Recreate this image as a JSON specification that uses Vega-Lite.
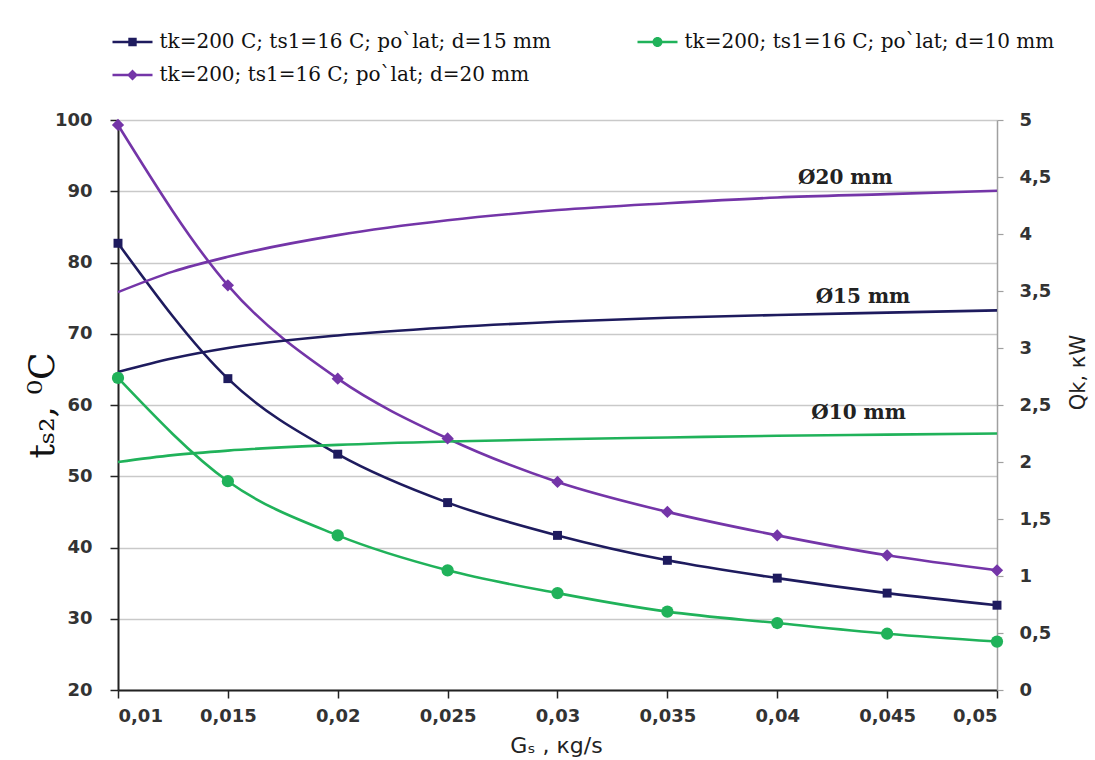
{
  "$schema": "https://vega.github.io/schema/vega-lite/v6.json",
  "width": 879,
  "height": 570,
  "autosize": {"type": "none"},
  "padding": {"left": 118, "top": 120, "right": 98, "bottom": 70},
  "background": "white",
  "datasets": {
    "ts": [
      {"Gs": 0.01, "series": "tk=200 C; ts1=16 C; po`lat; d=15 mm", "ts2": 82.7},
      {"Gs": 0.015, "series": "tk=200 C; ts1=16 C; po`lat; d=15 mm", "ts2": 63.7},
      {"Gs": 0.02, "series": "tk=200 C; ts1=16 C; po`lat; d=15 mm", "ts2": 53.1},
      {"Gs": 0.025, "series": "tk=200 C; ts1=16 C; po`lat; d=15 mm", "ts2": 46.3},
      {"Gs": 0.03, "series": "tk=200 C; ts1=16 C; po`lat; d=15 mm", "ts2": 41.7},
      {"Gs": 0.035, "series": "tk=200 C; ts1=16 C; po`lat; d=15 mm", "ts2": 38.2},
      {"Gs": 0.04, "series": "tk=200 C; ts1=16 C; po`lat; d=15 mm", "ts2": 35.7},
      {"Gs": 0.045, "series": "tk=200 C; ts1=16 C; po`lat; d=15 mm", "ts2": 33.6},
      {"Gs": 0.05, "series": "tk=200 C; ts1=16 C; po`lat; d=15 mm", "ts2": 31.9},
      {"Gs": 0.01, "series": "tk=200; ts1=16 C; po`lat; d=10 mm", "ts2": 63.8},
      {"Gs": 0.015, "series": "tk=200; ts1=16 C; po`lat; d=10 mm", "ts2": 49.3},
      {"Gs": 0.02, "series": "tk=200; ts1=16 C; po`lat; d=10 mm", "ts2": 41.7},
      {"Gs": 0.025, "series": "tk=200; ts1=16 C; po`lat; d=10 mm", "ts2": 36.8},
      {"Gs": 0.03, "series": "tk=200; ts1=16 C; po`lat; d=10 mm", "ts2": 33.6},
      {"Gs": 0.035, "series": "tk=200; ts1=16 C; po`lat; d=10 mm", "ts2": 31.0},
      {"Gs": 0.04, "series": "tk=200; ts1=16 C; po`lat; d=10 mm", "ts2": 29.4},
      {"Gs": 0.045, "series": "tk=200; ts1=16 C; po`lat; d=10 mm", "ts2": 27.9},
      {"Gs": 0.05, "series": "tk=200; ts1=16 C; po`lat; d=10 mm", "ts2": 26.8},
      {"Gs": 0.01, "series": "tk=200; ts1=16 C; po`lat; d=20 mm", "ts2": 99.3},
      {"Gs": 0.015, "series": "tk=200; ts1=16 C; po`lat; d=20 mm", "ts2": 76.8},
      {"Gs": 0.02, "series": "tk=200; ts1=16 C; po`lat; d=20 mm", "ts2": 63.7},
      {"Gs": 0.025, "series": "tk=200; ts1=16 C; po`lat; d=20 mm", "ts2": 55.3},
      {"Gs": 0.03, "series": "tk=200; ts1=16 C; po`lat; d=20 mm", "ts2": 49.2},
      {"Gs": 0.035, "series": "tk=200; ts1=16 C; po`lat; d=20 mm", "ts2": 45.0},
      {"Gs": 0.04, "series": "tk=200; ts1=16 C; po`lat; d=20 mm", "ts2": 41.7},
      {"Gs": 0.045, "series": "tk=200; ts1=16 C; po`lat; d=20 mm", "ts2": 38.9},
      {"Gs": 0.05, "series": "tk=200; ts1=16 C; po`lat; d=20 mm", "ts2": 36.8}
    ],
    "qk": [
      {"Gs": 0.01, "series": "tk=200 C; ts1=16 C; po`lat; d=15 mm", "Qk": 2.79},
      {"Gs": 0.0125, "series": "tk=200 C; ts1=16 C; po`lat; d=15 mm", "Qk": 2.91},
      {"Gs": 0.015, "series": "tk=200 C; ts1=16 C; po`lat; d=15 mm", "Qk": 3.0},
      {"Gs": 0.02, "series": "tk=200 C; ts1=16 C; po`lat; d=15 mm", "Qk": 3.11},
      {"Gs": 0.025, "series": "tk=200 C; ts1=16 C; po`lat; d=15 mm", "Qk": 3.18},
      {"Gs": 0.03, "series": "tk=200 C; ts1=16 C; po`lat; d=15 mm", "Qk": 3.23},
      {"Gs": 0.035, "series": "tk=200 C; ts1=16 C; po`lat; d=15 mm", "Qk": 3.265},
      {"Gs": 0.04, "series": "tk=200 C; ts1=16 C; po`lat; d=15 mm", "Qk": 3.29},
      {"Gs": 0.045, "series": "tk=200 C; ts1=16 C; po`lat; d=15 mm", "Qk": 3.31},
      {"Gs": 0.05, "series": "tk=200 C; ts1=16 C; po`lat; d=15 mm", "Qk": 3.33},
      {"Gs": 0.01, "series": "tk=200; ts1=16 C; po`lat; d=10 mm", "Qk": 2.0},
      {"Gs": 0.0125, "series": "tk=200; ts1=16 C; po`lat; d=10 mm", "Qk": 2.06},
      {"Gs": 0.015, "series": "tk=200; ts1=16 C; po`lat; d=10 mm", "Qk": 2.1},
      {"Gs": 0.02, "series": "tk=200; ts1=16 C; po`lat; d=10 mm", "Qk": 2.15},
      {"Gs": 0.025, "series": "tk=200; ts1=16 C; po`lat; d=10 mm", "Qk": 2.18},
      {"Gs": 0.03, "series": "tk=200; ts1=16 C; po`lat; d=10 mm", "Qk": 2.2},
      {"Gs": 0.035, "series": "tk=200; ts1=16 C; po`lat; d=10 mm", "Qk": 2.215},
      {"Gs": 0.04, "series": "tk=200; ts1=16 C; po`lat; d=10 mm", "Qk": 2.23},
      {"Gs": 0.045, "series": "tk=200; ts1=16 C; po`lat; d=10 mm", "Qk": 2.24},
      {"Gs": 0.05, "series": "tk=200; ts1=16 C; po`lat; d=10 mm", "Qk": 2.25},
      {"Gs": 0.01, "series": "tk=200; ts1=16 C; po`lat; d=20 mm", "Qk": 3.49},
      {"Gs": 0.0125, "series": "tk=200; ts1=16 C; po`lat; d=20 mm", "Qk": 3.67},
      {"Gs": 0.015, "series": "tk=200; ts1=16 C; po`lat; d=20 mm", "Qk": 3.8},
      {"Gs": 0.02, "series": "tk=200; ts1=16 C; po`lat; d=20 mm", "Qk": 3.99},
      {"Gs": 0.025, "series": "tk=200; ts1=16 C; po`lat; d=20 mm", "Qk": 4.12},
      {"Gs": 0.03, "series": "tk=200; ts1=16 C; po`lat; d=20 mm", "Qk": 4.21},
      {"Gs": 0.035, "series": "tk=200; ts1=16 C; po`lat; d=20 mm", "Qk": 4.27},
      {"Gs": 0.04, "series": "tk=200; ts1=16 C; po`lat; d=20 mm", "Qk": 4.32},
      {"Gs": 0.045, "series": "tk=200; ts1=16 C; po`lat; d=20 mm", "Qk": 4.35},
      {"Gs": 0.05, "series": "tk=200; ts1=16 C; po`lat; d=20 mm", "Qk": 4.38}
    ],
    "notes": [
      {"Gs": 0.0431, "Qk": 4.49, "label": "Ø20 mm"},
      {"Gs": 0.0439, "Qk": 3.45, "label": "Ø15 mm"},
      {"Gs": 0.0437, "Qk": 2.43, "label": "Ø10 mm"}
    ]
  },
  "config": {
    "view": {"stroke": null},
    "axis": {
      "labelFont": "DejaVu Sans",
      "labelFontWeight": "bold",
      "labelFontSize": 18,
      "labelColor": "#333333"
    },
    "legend": {
      "orient": "none",
      "direction": "horizontal",
      "legendX": 4.5,
      "legendY": -88,
      "columns": 2,
      "columnPadding": 86,
      "rowPadding": 13,
      "padding": 0,
      "symbolSize": 400,
      "symbolStrokeWidth": 0,
      "labelFont": "DejaVu Serif",
      "labelFontSize": 20,
      "labelColor": "#111111",
      "labelOffset": 17,
      "labelLimit": 0
    }
  },
  "layer": [
    {
      "data": {"name": "ts"},
      "mark": {"type": "line", "strokeWidth": 2.6, "interpolate": "monotone"},
      "encoding": {
        "x": {
          "field": "Gs", "type": "quantitative", "title": "Gₛ , кg/s",
          "scale": {"domain": [0.01, 0.05], "nice": false, "zero": false},
          "axis": {
            "values": [0.01, 0.015, 0.02, 0.025, 0.03, 0.035, 0.04, 0.045, 0.05],
            "labelExpr": "replace(format(datum.value, '.3~f'), '.', ',')",
            "grid": false,
            "domainColor": "#222222", "domainWidth": 2,
            "tickColor": "#222222", "tickWidth": 1.5, "tickSize": 8,
            "labelPadding": 9,
            "titleFont": "DejaVu Sans", "titleFontSize": 22, "titleFontWeight": "normal", "titleColor": "#222222",
            "titleX": 438, "titleY": 55, "titleAlign": "center", "titleBaseline": "middle"
          }
        },
        "y": {
          "field": "ts2", "type": "quantitative", "title": "tₛ₂, ⁰C",
          "scale": {"domain": [20, 100], "nice": false, "zero": false},
          "axis": {
            "orient": "left",
            "values": [20, 30, 40, 50, 60, 70, 80, 90, 100],
            "grid": true, "gridColor": "#c9c9c9", "gridWidth": 1.5,
            "domainColor": "#222222", "domainWidth": 2,
            "tickColor": "#222222", "tickWidth": 1.5, "tickSize": 8,
            "labelPadding": 18,
            "titleFont": "DejaVu Serif", "titleFontSize": 36, "titleFontWeight": "normal", "titleColor": "#111111",
            "titleAngle": 270, "titleX": -76, "titleY": 285, "titleAlign": "center", "titleBaseline": "middle"
          }
        },
        "color": {
          "field": "series", "type": "nominal",
          "scale": {
            "domain": ["tk=200 C; ts1=16 C; po`lat; d=15 mm", "tk=200; ts1=16 C; po`lat; d=10 mm", "tk=200; ts1=16 C; po`lat; d=20 mm"],
            "range": ["#1e1b5e", "#20b25a", "#7435a8"]
          },
          "legend": {
            "title": null,
            "encode": {
              "symbols": {
                "update": {
                  "shape": {"signal": "datum.index === 0 ? 'M-2,-0.12H2V0.12H-2Z M-0.42,-0.42H0.42V0.42H-0.42Z' : datum.index === 1 ? 'M-2,-0.12H2V0.12H-2Z M-0.5,0A0.5,0.5 0 1,1 0.5,0A0.5,0.5 0 1,1 -0.5,0Z' : 'M-2,-0.12H2V0.12H-2Z M0,-0.55L0.55,0L0,0.55L-0.55,0Z'"},
                  "fill": {"scale": "color", "field": "value"},
                  "strokeWidth": {"value": 0},
                  "opacity": {"value": 1}
                }
              }
            }
          }
        }
      }
    },
    {
      "data": {"name": "qk"},
      "mark": {"type": "line", "strokeWidth": 2.6, "interpolate": "monotone"},
      "encoding": {
        "x": {
          "field": "Gs", "type": "quantitative", "title": "Gₛ , кg/s",
          "scale": {"domain": [0.01, 0.05], "nice": false, "zero": false}
        },
        "y": {
          "field": "Qk", "type": "quantitative", "title": "Qk, кW",
          "scale": {"domain": [0, 5], "nice": false, "zero": false},
          "axis": {
            "orient": "right",
            "values": [0, 0.5, 1, 1.5, 2, 2.5, 3, 3.5, 4, 4.5, 5],
            "labelExpr": "replace(format(datum.value, '.1~f'), '.', ',')",
            "grid": false,
            "domainColor": "#a0a0a0", "domainWidth": 1.5,
            "tickColor": "#a0a0a0", "tickWidth": 1.2, "tickSize": 6,
            "labelPadding": 16,
            "titleFont": "DejaVu Sans", "titleFontSize": 21, "titleFontWeight": "normal", "titleColor": "#222222",
            "titleAngle": 270, "titleX": 81, "titleY": 252, "titleAlign": "center", "titleBaseline": "middle"
          }
        },
        "color": {
          "field": "series", "type": "nominal",
          "legend": {
            "title": null,
            "encode": {
              "symbols": {
                "update": {
                  "shape": {"signal": "datum.index === 0 ? 'M-2,-0.12H2V0.12H-2Z M-0.42,-0.42H0.42V0.42H-0.42Z' : datum.index === 1 ? 'M-2,-0.12H2V0.12H-2Z M-0.5,0A0.5,0.5 0 1,1 0.5,0A0.5,0.5 0 1,1 -0.5,0Z' : 'M-2,-0.12H2V0.12H-2Z M0,-0.55L0.55,0L0,0.55L-0.55,0Z'"},
                  "fill": {"scale": "color", "field": "value"},
                  "strokeWidth": {"value": 0},
                  "opacity": {"value": 1}
                }
              }
            }
          }
        }
      }
    },
    {
      "data": {"name": "ts"},
      "transform": [{"filter": "datum.series === 'tk=200 C; ts1=16 C; po`lat; d=15 mm'"}],
      "mark": {"type": "point", "filled": true, "opacity": 1, "shape": "square", "size": 80, "color": "#1e1b5e"},
      "encoding": {
        "x": {
          "field": "Gs", "type": "quantitative", "title": "Gₛ , кg/s",
          "scale": {"domain": [0.01, 0.05], "nice": false, "zero": false}
        },
        "y": {
          "field": "ts2", "type": "quantitative",
          "scale": {"domain": [20, 100], "nice": false, "zero": false},
          "axis": null
        }
      }
    },
    {
      "data": {"name": "ts"},
      "transform": [{"filter": "datum.series === 'tk=200; ts1=16 C; po`lat; d=10 mm'"}],
      "mark": {"type": "point", "filled": true, "opacity": 1, "shape": "circle", "size": 150, "color": "#20b25a"},
      "encoding": {
        "x": {
          "field": "Gs", "type": "quantitative", "title": "Gₛ , кg/s",
          "scale": {"domain": [0.01, 0.05], "nice": false, "zero": false}
        },
        "y": {
          "field": "ts2", "type": "quantitative",
          "scale": {"domain": [20, 100], "nice": false, "zero": false},
          "axis": null
        }
      }
    },
    {
      "data": {"name": "ts"},
      "transform": [{"filter": "datum.series === 'tk=200; ts1=16 C; po`lat; d=20 mm'"}],
      "mark": {"type": "point", "filled": true, "opacity": 1, "shape": "diamond", "size": 150, "color": "#7435a8"},
      "encoding": {
        "x": {
          "field": "Gs", "type": "quantitative", "title": "Gₛ , кg/s",
          "scale": {"domain": [0.01, 0.05], "nice": false, "zero": false}
        },
        "y": {
          "field": "ts2", "type": "quantitative",
          "scale": {"domain": [20, 100], "nice": false, "zero": false},
          "axis": null
        }
      }
    },
    {
      "data": {"name": "notes"},
      "mark": {"type": "text", "font": "DejaVu Serif", "fontWeight": "bold", "fontSize": 20, "color": "#222222", "align": "center", "baseline": "middle"},
      "encoding": {
        "x": {
          "field": "Gs", "type": "quantitative", "title": "Gₛ , кg/s",
          "scale": {"domain": [0.01, 0.05], "nice": false, "zero": false}
        },
        "y": {
          "field": "Qk", "type": "quantitative",
          "scale": {"domain": [0, 5], "nice": false, "zero": false},
          "axis": null
        },
        "text": {"field": "label"}
      }
    }
  ],
  "resolve": {"scale": {"y": "independent"}}
}
